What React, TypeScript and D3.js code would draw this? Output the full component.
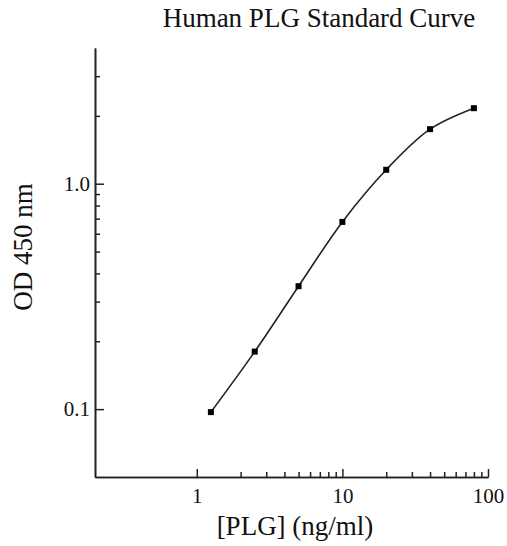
import React, { useEffect, useRef } from "react";
import * as d3 from "d3";

// standard concentrations (ng/ml) and mean OD readings
const concentrations = [1.25, 2.5, 5, 10, 20, 40, 80];
const odValues = [0.097, 0.18, 0.351, 0.677, 1.153, 1.746, 2.163];

const xMajorTicks = [1, 10, 100];
const xMinorTicks = [2, 3, 4, 5, 6, 7, 8, 9, 20, 30, 40, 50, 60, 70, 80, 90];
const yMajorTicks = [0.1, 1.0];
const yMinorTicks = [0.2, 0.3, 0.4, 0.5, 0.6, 0.7, 0.8, 0.9, 2, 3];

const title = "Human PLG Standard Curve";
const xLabel = "[PLG] (ng/ml)";
const yLabel = "OD 450 nm";

const W = 507;
const H = 546;
const margin = { top: 48, right: 19, bottom: 69, left: 95 };
const font = "'Liberation Serif', 'Times New Roman', serif";

export default function App() {
  const ref = useRef<SVGSVGElement>(null);

  useEffect(() => {
    const svg = d3.select(ref.current);
    svg.selectAll("*").remove();

    const width = W - margin.left - margin.right;
    const height = H - margin.top - margin.bottom;

    const x = d3.scaleLog().domain([0.2, 100]).range([0, width]);
    const y = d3.scaleLog().domain([0.05, 4]).range([height, 0]);

    const g = svg
      .append("g")
      .attr("transform", `translate(${margin.left},${margin.top})`);

    // minor ticks first, no labels
    g.append("g")
      .attr("transform", `translate(0,${height})`)
      .call(
        d3.axisBottom(x).tickValues(xMinorTicks).tickSize(-5).tickSizeOuter(0).tickFormat(() => "")
      );
    g.append("g").call(
      d3.axisLeft(y).tickValues(yMinorTicks).tickSize(-5).tickSizeOuter(0).tickFormat(() => "")
    );

    // major ticks with labels
    const xAxis = g
      .append("g")
      .attr("transform", `translate(0,${height})`)
      .call(
        d3
          .axisBottom(x)
          .tickValues(xMajorTicks)
          .tickSize(-8)
          .tickSizeOuter(0)
          .tickPadding(11)
          .tickFormat(d3.format("d"))
      );
    xAxis.selectAll("text").attr("dy", "0.71em");

    g.append("g").call(
      d3
        .axisLeft(y)
        .tickValues(yMajorTicks)
        .tickSize(-9)
        .tickSizeOuter(0)
        .tickPadding(5)
        .tickFormat(d3.format(".1f"))
    );

    g.selectAll(".domain").attr("stroke", "#222").attr("stroke-width", 1.6);
    g.selectAll(".tick line").attr("stroke", "#222").attr("stroke-width", 1.5);
    g.selectAll(".tick text")
      .attr("font-family", font)
      .attr("font-size", 21)
      .attr("fill", "#111");

    // fitted curve through the standards
    const pts = concentrations.map((c, i) => [x(c), y(odValues[i])] as [number, number]);
    g.append("path")
      .attr("d", d3.line().curve(d3.curveCatmullRom.alpha(0.5))(pts))
      .attr("fill", "none")
      .attr("stroke", "#222")
      .attr("stroke-width", 1.6);

    g.selectAll("rect.pt")
      .data(pts)
      .join("rect")
      .attr("class", "pt")
      .attr("x", (d) => d[0] - 3)
      .attr("y", (d) => d[1] - 3)
      .attr("width", 6)
      .attr("height", 6)
      .attr("fill", "#000");

    svg
      .append("text")
      .attr("x", 319)
      .attr("y", 27)
      .attr("text-anchor", "middle")
      .attr("font-family", font)
      .attr("font-size", 27)
      .attr("fill", "#111")
      .text(title);

    svg
      .append("text")
      .attr("x", 295)
      .attr("y", 535)
      .attr("text-anchor", "middle")
      .attr("font-family", font)
      .attr("font-size", 27)
      .attr("fill", "#111")
      .text(xLabel);

    svg
      .append("text")
      .attr("transform", `translate(32,247) rotate(-90)`)
      .attr("text-anchor", "middle")
      .attr("font-family", font)
      .attr("font-size", 27)
      .attr("fill", "#111")
      .text(yLabel);
  }, []);

  return (
    <svg
      ref={ref}
      width={W}
      height={H}
      style={{ position: "absolute", left: 0, top: 0, background: "#fff" }}
    />
  );
}
